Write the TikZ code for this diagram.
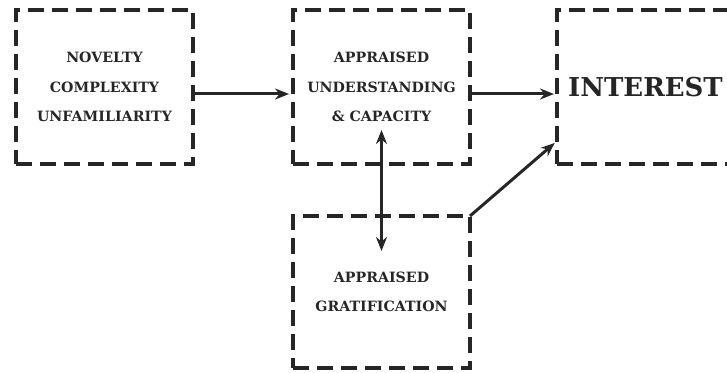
\documentclass[tikz,border=0pt]{standalone}
\usepackage{fontspec}
\setmainfont{DejaVu Serif}
\usepackage{tikz}
\usetikzlibrary{arrows.meta, positioning}
\tikzset{
    factor/.style={draw, rectangle, align=center, draw=black!85, line width=3.5pt, dash pattern=on 16pt off 8pt, minimum width=177pt, minimum height=154pt, inner sep=0pt, outer sep=0pt, font=\fontsize{14.2}{29.5}\selectfont\bfseries, text=black!85},
    arrow/.style={line width=3pt, draw=black!85, -{Stealth[length=14pt, width=11pt]}},
    twoway/.style={line width=3pt, draw=black!85, {Stealth[length=14pt, width=11pt]}-{Stealth[length=14pt, width=11pt]}}
}

\begin{document}
\begin{tikzpicture}[x=1pt, y=1pt]

        \useasboundingbox (0,0) rectangle (727,372);
        \clip (0,0) rectangle (727,372);

        % -----------------------------------------------------------------
        % BOXES
        % -----------------------------------------------------------------
        \node[factor] (novelty) at (104.5, 285) {NOVELTY\\COMPLEXITY\\UNFAMILIARITY};
        \node[factor, right=100pt of novelty] (appraised) {APPRAISED\\UNDERSTANDING\\\& CAPACITY};
        \node[factor, right=87pt of appraised, font=\fontsize{26}{30}\selectfont\bfseries] (interest) {INTEREST};
        \node[factor, below=52pt of appraised, minimum height=152pt] (gratification) {APPRAISED\\GRATIFICATION};

        % -----------------------------------------------------------------
        % ARROWS
        % -----------------------------------------------------------------
        \draw[arrow, shorten >=4pt, shorten <=2pt] ([yshift=-7pt]novelty.east) -- ([yshift=-7pt]appraised.west);
        \draw[arrow, shorten >=3pt, shorten <=2pt] ([yshift=-7pt]appraised.east) -- ([yshift=-7pt]interest.west);
        \draw[twoway] ([yshift=34pt]appraised.south) -- ([yshift=-35pt]gratification.north);
        \draw[arrow, shorten >=3pt] (gratification.north east) -- ([yshift=23pt]interest.south west);

\end{tikzpicture}
\end{document}
